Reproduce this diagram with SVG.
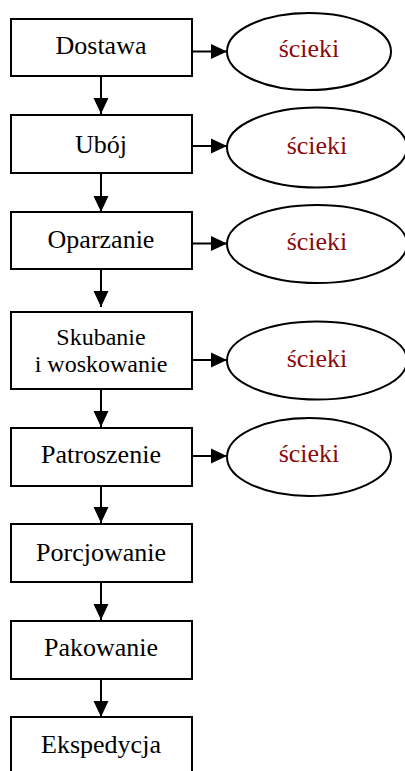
<svg xmlns="http://www.w3.org/2000/svg" width="405" height="771" viewBox="0 0 405 771">
  <style>
    .step { fill: #ffffff; stroke: #000000; stroke-width: 2; }
    .waste { fill: #ffffff; stroke: #000000; stroke-width: 2; }
    .label { font-family: "Liberation Serif", "Times New Roman", serif; font-size: 26px; fill: #000000; text-anchor: middle; }
    .label.small { font-size: 24px; }
    .out { font-family: "Liberation Serif", "Times New Roman", serif; font-size: 26px; fill: #8b0a0a; text-anchor: middle; }
    .flow { stroke: #000000; stroke-width: 2; fill: none; }
  </style>
  <defs>
    <marker id="arrow" markerUnits="userSpaceOnUse" markerWidth="16" markerHeight="16" viewBox="0 0 15 14" refX="15" refY="7" orient="auto">
      <path d="M0,0 L15,7 L0,14 Z" fill="#000000"/>
    </marker>
  </defs>

  <rect width="405" height="771" fill="#ffffff"/>

  <!-- process steps -->
  <g id="dostawa">
    <rect class="step" x="11" y="19" width="181" height="57"/>
    <text class="label" x="101" y="54">Dostawa</text>
  </g>
  <g id="uboj">
    <rect class="step" x="11" y="115" width="181" height="58"/>
    <text class="label" x="101" y="153">Ubój</text>
  </g>
  <g id="oparzanie">
    <rect class="step" x="11" y="212" width="181" height="57"/>
    <text class="label" x="101" y="248">Oparzanie</text>
  </g>
  <g id="skubanie">
    <rect class="step" x="11" y="312" width="181" height="77"/>
    <text class="label small" x="101" y="345">Skubanie</text>
    <text class="label small" x="101" y="372">i woskowanie</text>
  </g>
  <g id="patroszenie">
    <rect class="step" x="11" y="428" width="181" height="58"/>
    <text class="label" x="101" y="463">Patroszenie</text>
  </g>
  <g id="porcjowanie">
    <rect class="step" x="11" y="524" width="181" height="58"/>
    <text class="label" x="101" y="561">Porcjowanie</text>
  </g>
  <g id="pakowanie">
    <rect class="step" x="11" y="621" width="181" height="58"/>
    <text class="label" x="101" y="656">Pakowanie</text>
  </g>
  <g id="ekspedycja">
    <rect class="step" x="11" y="717" width="181" height="60"/>
    <text class="label" x="101" y="753">Ekspedycja</text>
  </g>

  <!-- waste water outputs -->
  <g id="scieki-1">
    <ellipse class="waste" cx="309" cy="51.5" rx="82" ry="38.5"/>
    <text class="out" x="309" y="57">ścieki</text>
  </g>
  <g id="scieki-2">
    <ellipse class="waste" cx="317" cy="147.5" rx="90" ry="40"/>
    <text class="out" x="317" y="154">ścieki</text>
  </g>
  <g id="scieki-3">
    <ellipse class="waste" cx="317" cy="244" rx="90" ry="39"/>
    <text class="out" x="317" y="250">ścieki</text>
  </g>
  <g id="scieki-4">
    <ellipse class="waste" cx="317" cy="360.5" rx="90" ry="39"/>
    <text class="out" x="317" y="367">ścieki</text>
  </g>
  <g id="scieki-5">
    <ellipse class="waste" cx="309" cy="457" rx="82" ry="39"/>
    <text class="out" x="309" y="462">ścieki</text>
  </g>

  <!-- connectors -->
  <g id="connectors">
    <line class="flow" x1="101" y1="76" x2="101" y2="114" marker-end="url(#arrow)"/>
    <line class="flow" x1="101" y1="173" x2="101" y2="212" marker-end="url(#arrow)"/>
    <line class="flow" x1="101" y1="269" x2="101" y2="307" marker-end="url(#arrow)"/>
    <line class="flow" x1="101" y1="389" x2="101" y2="427" marker-end="url(#arrow)"/>
    <line class="flow" x1="101" y1="486" x2="101" y2="523" marker-end="url(#arrow)"/>
    <line class="flow" x1="101" y1="582" x2="101" y2="620" marker-end="url(#arrow)"/>
    <line class="flow" x1="101" y1="679" x2="101" y2="717" marker-end="url(#arrow)"/>

    <line class="flow" x1="192" y1="51.5" x2="227" y2="51.5" marker-end="url(#arrow)"/>
    <line class="flow" x1="192" y1="146" x2="227" y2="146" marker-end="url(#arrow)"/>
    <line class="flow" x1="192" y1="243.5" x2="227" y2="243.5" marker-end="url(#arrow)"/>
    <line class="flow" x1="192" y1="360" x2="227" y2="360" marker-end="url(#arrow)"/>
    <line class="flow" x1="192" y1="456" x2="227" y2="456" marker-end="url(#arrow)"/>
  </g>
</svg>
